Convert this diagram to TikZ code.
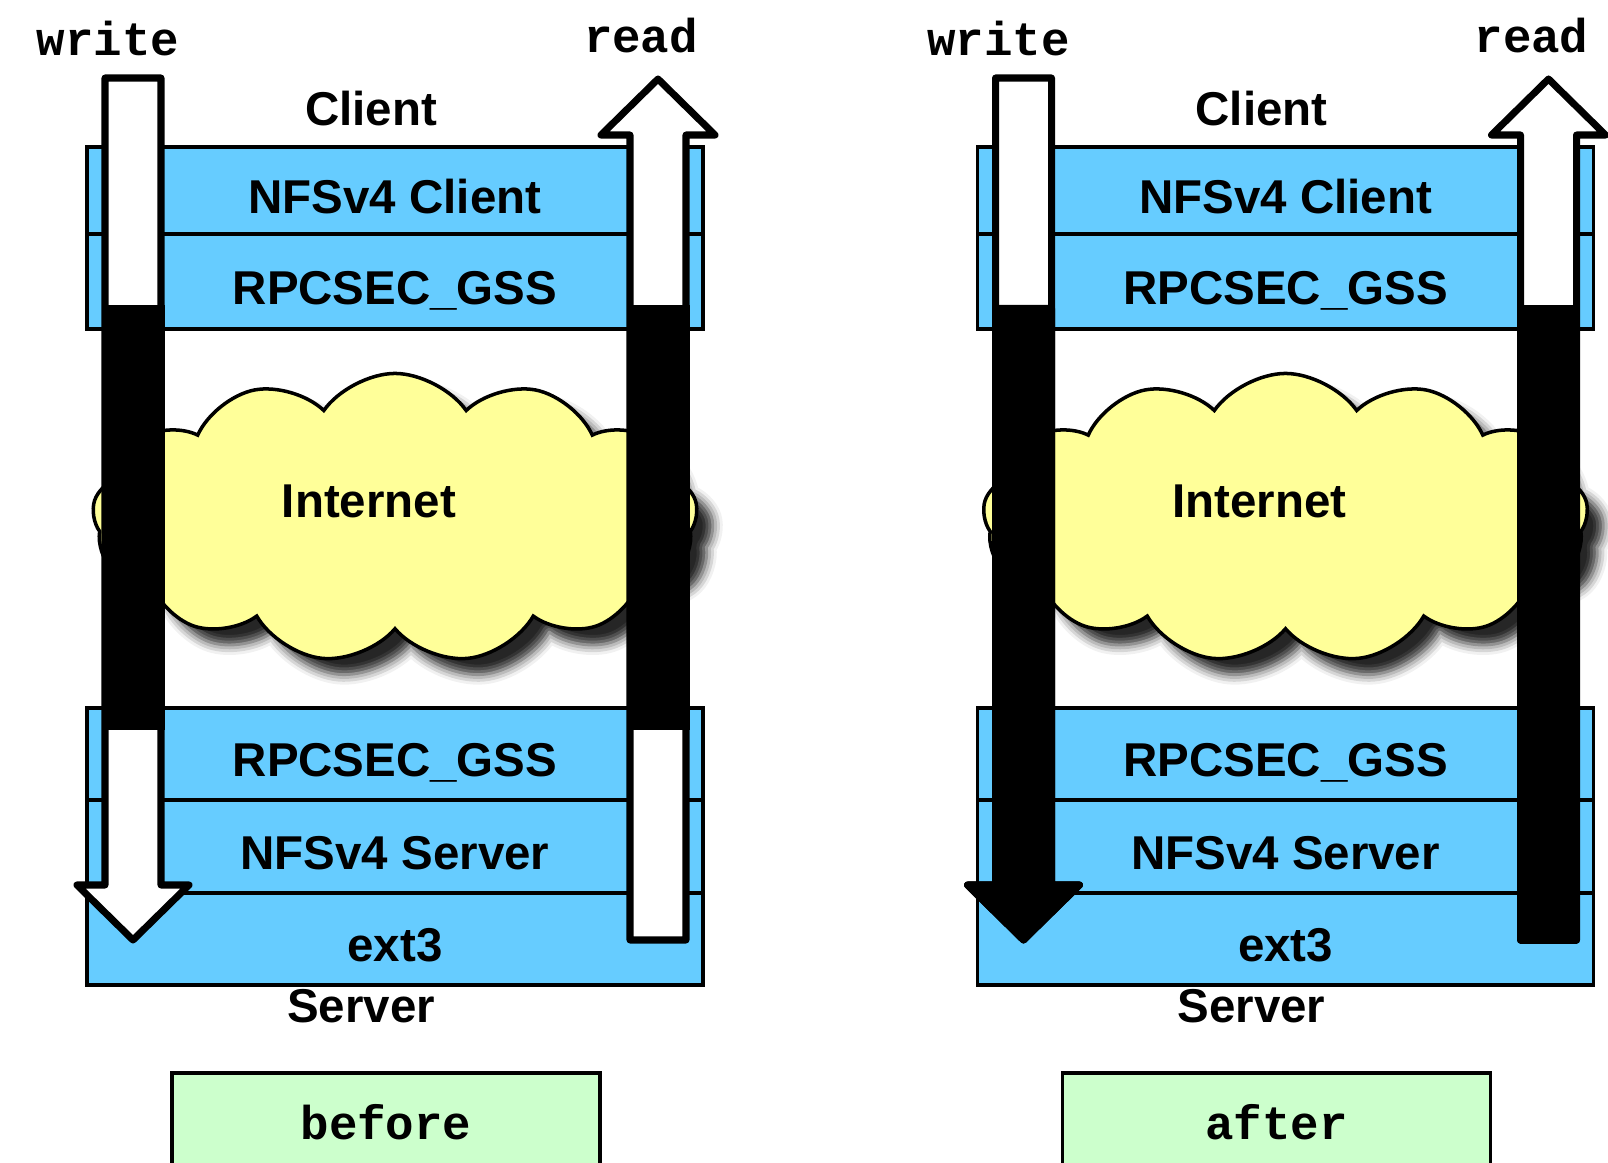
\documentclass[tikz,border=0pt]{standalone}
\usepackage{fontspec}
\setmainfont{Liberation Sans}
\setmonofont{Liberation Mono}
\usetikzlibrary{shapes.symbols, shadows.blur}

\definecolor{layerblue}{HTML}{66CCFF}
\definecolor{cloudyellow}{HTML}{FFFF99}
\definecolor{taggreen}{HTML}{CCFFCC}

\begin{document}
\begin{tikzpicture}[x=0.01cm, y=-0.01cm]
\tikzstyle{layer}=[draw, fill=layerblue, line width=1pt, minimum width=6.155cm, inner sep=0pt, font=\fontsize{13.5}{16}\selectfont\bfseries, text height=13pt, text depth=0pt]
\tikzstyle{caption}=[anchor=base, inner sep=0pt, font=\fontsize{13.5}{16}\selectfont\bfseries]
\tikzstyle{verb}=[anchor=base, inner sep=0pt, font=\fontsize{13.5}{16}\selectfont\ttfamily\bfseries]
\tikzstyle{net}=[cloud, cloud puffs=13, cloud puff arc=110, cloud ignores aspect, draw, line width=1pt, fill=cloudyellow, minimum width=6.05cm, minimum height=2.89cm, inner sep=0pt, blur shadow={shadow xshift=1.6mm, shadow yshift=-1.6mm, shadow blur radius=1mm, shadow opacity=85}]
\tikzstyle{pipe}=[draw, line width=2pt, line join=round, fill=white]
\tikzstyle{tag}=[draw, fill=taggreen, line width=1pt, anchor=north, minimum width=4.28cm, inner sep=0pt, text height=6.7mm, text depth=4mm, font=\fontsize{13.5}{16}\selectfont\ttfamily\bfseries]
\clip (0,0) rectangle (1608,1163);

% before
\node[caption] (cliA) at (371,125) {Client};
\node[layer, minimum height=0.87cm] (cnfsA) at (395,190.5) {NFSv4 Client};
\node[layer, minimum height=0.95cm] (crpcA) at (395,281.5) {RPCSEC\_GSS};
\node[net] (netA) at (395,518) {};
\node[caption] (inetA) at (369,517) {Internet};
\node[layer, minimum height=0.92cm] (srpcA) at (395,754) {RPCSEC\_GSS};
\node[layer, minimum height=0.93cm] (snfsA) at (395,846.5) {NFSv4 Server};
\node[layer, minimum height=0.92cm] (extA) at (395,939) {ext3};
\node[caption] (srvA) at (361,1022) {Server};
\node[tag] (tagA) at (386,1071) {before};

\node[verb] (wrA) at (108,55) {write};
\node[verb] (rdA) at (641,52) {read};
\draw[pipe] (105,78) -- (161,78) -- (161,885) -- (189,885) -- (133,940) -- (77,885) -- (105,885) -- cycle;
\fill[black] (101.5,305) rectangle (164.5,730);
\draw[pipe] (630,940) -- (630,135) -- (601,135) -- (658,79) -- (715,135) -- (686,135) -- (686,940) -- cycle;
\fill[black] (626.5,305) rectangle (689.5,730);

% after
\begin{scope}[xshift=8.9cm]
\node[caption] (cliB) at (371,125) {Client};
\node[layer, minimum height=0.87cm] (cnfsB) at (395,190.5) {NFSv4 Client};
\node[layer, minimum height=0.95cm] (crpcB) at (395,281.5) {RPCSEC\_GSS};
\node[net] (netB) at (395,518) {};
\node[caption] (inetB) at (369,517) {Internet};
\node[layer, minimum height=0.92cm] (srpcB) at (395,754) {RPCSEC\_GSS};
\node[layer, minimum height=0.93cm] (snfsB) at (395,846.5) {NFSv4 Server};
\node[layer, minimum height=0.92cm] (extB) at (395,939) {ext3};
\node[caption] (srvB) at (361,1022) {Server};
\node[tag] (tagB) at (386,1071) {after};

\node[verb] (wrB) at (108,55) {write};
\node[verb] (rdB) at (641,52) {read};
\draw[pipe] (105,78) -- (161,78) -- (161,885) -- (189,885) -- (133,940) -- (77,885) -- (105,885) -- cycle;
\filldraw[black, line width=2pt, line join=round] (105,308.5) -- (161,308.5) -- (161,885) -- (189,885) -- (133,940) -- (77,885) -- (105,885) -- cycle;
\draw[pipe] (630,940) -- (630,135) -- (601,135) -- (658,79) -- (715,135) -- (686,135) -- (686,940) -- cycle;
\filldraw[black, line width=2pt, line join=round] (630,308.5) rectangle (686,940);
\end{scope}
\end{tikzpicture}
\end{document}
